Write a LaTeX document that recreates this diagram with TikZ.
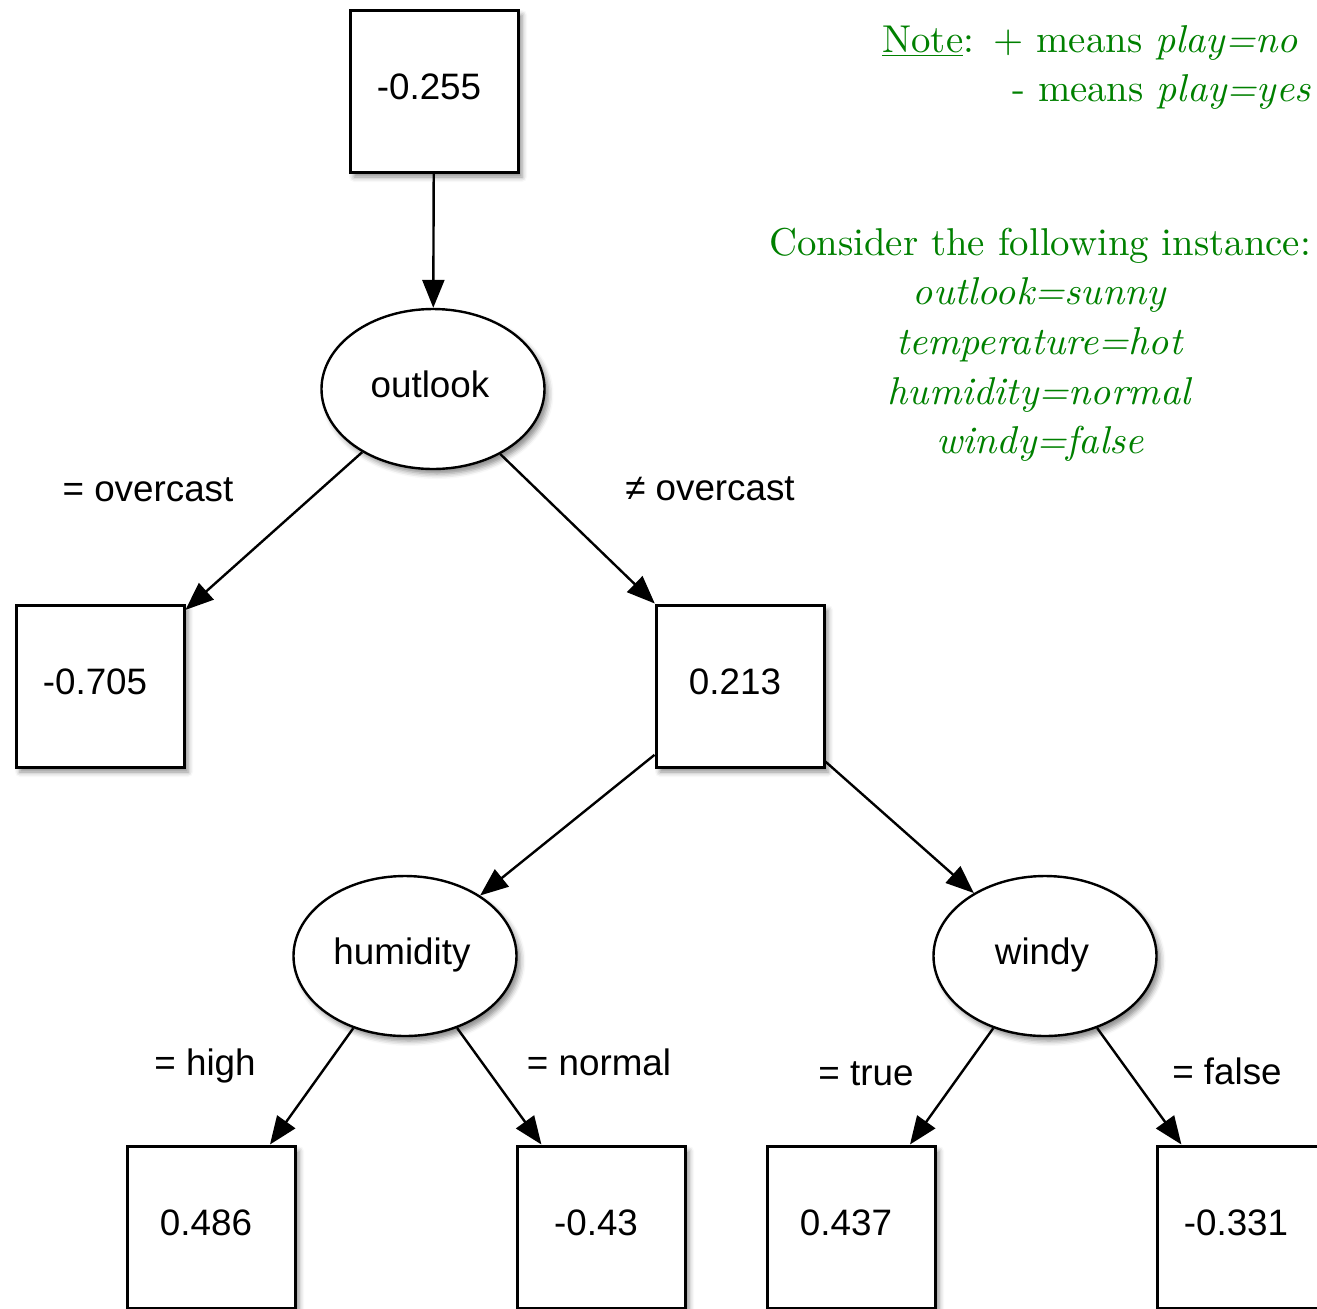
\documentclass[tikz,border=0pt]{standalone}
\usepackage{fontspec}
\usepackage{xcolor}
\usepackage{tikz}
\usetikzlibrary{shapes.geometric, shadows.blur, arrows.meta, positioning}
\newfontfamily\diagfont{Liberation Sans}
\newfontfamily\notefont[ItalicFont=lmroman10-italic.otf,
  ItalicFeatures={FakeStretch=1.02}]{lmroman10-regular.otf}
\definecolor{notegreen}{RGB}{0,128,0}

\begin{document}
\begin{tikzpicture}[x=0.5pt, y=-0.5pt,
  every node/.style={font=\diagfont\fontsize{18.4}{22}\selectfont},
  valbox/.style={rectangle, draw, line width=1.5pt, fill=white,
    minimum width=84pt, minimum height=81pt,
    execute at end node={\hspace*{5pt}\rule[-4.5pt]{0pt}{4.5pt}},
    blur shadow={shadow xshift=2pt, shadow yshift=-2.5pt, shadow blur radius=2.5pt, shadow opacity=45}},
  attr/.style={ellipse, draw, line width=1.2pt, fill=white, inner sep=0pt,
    minimum width=111.5pt, minimum height=80pt,
    execute at end node={\hspace*{3pt}\rule[-4.5pt]{0pt}{4.5pt}},
    blur shadow={shadow xshift=2pt, shadow yshift=-2.5pt, shadow blur radius=2.5pt, shadow opacity=45}},
  branch/.style={-{Triangle[length=14pt,width=11pt]}, line width=1.2pt},
  note/.style={text=notegreen, font=\notefont\fontsize{19.4}{25}\selectfont}]
\path[use as bounding box, clip] (0,0) rectangle (1317,1308);

% tree
\node[valbox] (root) at (434,91) {-0.255};
\node[attr] (outlook) at (433,389) {outlook};
\node[valbox] (over) at (100,686) {-0.705};
\node[valbox] (notover) at (740,686) {0.213};
\node[attr] (humidity) at (405,956) {humidity};
\node[attr] (windy) at (1045,956) {windy};
\node[valbox] (high) at (211,1227) {0.486};
\node[valbox] (normal) at (601,1227) {-0.43};
\node[valbox] (true) at (851,1227) {0.437};
\node[valbox] (false) at (1241,1227) {-0.331};

\draw[branch] (root) -- (outlook);
\draw[branch] (outlook) -- (over);
\draw[branch] (outlook) -- (notover);
\draw[branch] (notover) -- (humidity);
\draw[branch] (notover) -- (windy);
\draw[branch] (humidity) -- (high);
\draw[branch] (humidity) -- (normal);
\draw[branch] (windy) -- (true);
\draw[branch] (windy) -- (false);

% edge labels
\node (lover) at (148,490) {= overcast};
\node (lnotover) at (710,489) {≠ overcast};
\node (lhigh) at (205,1066) {= high};
\node (lnormal) at (599,1062) {= normal};
\node (ltrue) at (866,1074) {= true};
\node (lfalse) at (1227,1071) {= false};

% notes
\node[note, anchor=base east] (note1) at (1305,52) {\underline{Note}:\enspace + means \textit{play=no}};
\node[note, anchor=base east] (note2) at (1318,101) {- means \textit{play=yes}};
\node[note, anchor=base] (inst) at (1040,255) {Consider the following instance:};
\node[note, anchor=base] (inst1) at (1040,304) {\textit{outlook=sunny}};
\node[note, anchor=base] (inst2) at (1040,354) {\textit{temperature=hot}};
\node[note, anchor=base] (inst3) at (1040,404) {\textit{humidity=normal}};
\node[note, anchor=base] (inst4) at (1040,453) {\textit{windy=false}};
\end{tikzpicture}
\end{document}
